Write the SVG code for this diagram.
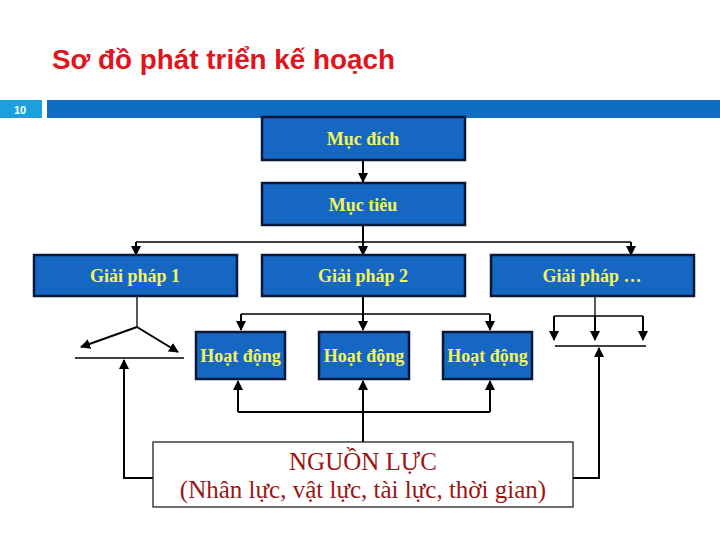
<svg xmlns="http://www.w3.org/2000/svg" width="720" height="540" viewBox="0 0 720 540">
<defs>
<style>
.box{fill:#1567C3;stroke:#0B1838;stroke-width:2.5}
.lbl{font-family:"Liberation Serif",serif;font-weight:bold;font-size:18px;fill:#F2F55A;text-anchor:middle}
.ln{fill:none;stroke:#000;stroke-width:2}
.thin{fill:none;stroke:#000;stroke-width:1.3}
.res{font-family:"Liberation Serif",serif;font-size:25px;fill:#9B1414;text-anchor:middle}
</style>
<marker id="ah" viewBox="0 0 10 10" refX="9" refY="5" markerWidth="5" markerHeight="5" orient="auto"><path d="M0,0 L10,5 L0,10 z" fill="#000"/></marker>
</defs>
<rect width="720" height="540" fill="#fff"/>
<text x="52" y="69" font-family="Liberation Sans,Arial,sans-serif" font-weight="bold" font-size="28" fill="#E0141C" textLength="343" lengthAdjust="spacingAndGlyphs">Sơ đồ phát triển kế hoạch</text>
<rect x="0" y="100" width="42" height="18" fill="#1BA0DC"/>
<text x="20" y="114" font-family="Liberation Sans,sans-serif" font-weight="bold" font-size="11" fill="#fff" text-anchor="middle">10</text>
<rect x="47" y="100" width="673" height="18" fill="#0F6EC4"/>
<g id="connectors">
<path class="ln" d="M363,160 V182" marker-end="url(#ah)"/>
<path class="ln" d="M363,225 V255" marker-end="url(#ah)"/>
<path class="thin" d="M136,242 H631"/>
<path class="ln" d="M136,242 V255" marker-end="url(#ah)"/>
<path class="ln" d="M631,242 V255" marker-end="url(#ah)"/>
<path class="thin" d="M137,296 V327"/>
<path class="ln" d="M137,327 L81,347" marker-end="url(#ah)"/>
<path class="ln" d="M137,327 L178,352" marker-end="url(#ah)"/>
<path class="thin" d="M75,358 H184"/>
<path class="ln" d="M363,296 V330" marker-end="url(#ah)"/>
<path class="thin" d="M241,314 H490"/>
<path class="ln" d="M241,314 V330" marker-end="url(#ah)"/>
<path class="ln" d="M490,314 V330" marker-end="url(#ah)"/>
<path class="thin" d="M595,296 V316"/>
<path class="thin" d="M554,316 H643"/>
<path class="ln" d="M554,316 V340" marker-end="url(#ah)"/>
<path class="ln" d="M595,316 V340" marker-end="url(#ah)"/>
<path class="ln" d="M643,316 V340" marker-end="url(#ah)"/>
<path class="thin" d="M555,346 H646"/>
<path class="ln" d="M363,442 V381" marker-end="url(#ah)"/>
<path class="ln" d="M238,412 H490"/>
<path class="ln" d="M238,412 V381" marker-end="url(#ah)"/>
<path class="ln" d="M490,412 V381" marker-end="url(#ah)"/>
<path class="ln" d="M153,478 H124 V360" marker-end="url(#ah)"/>
<path class="ln" d="M573,478 H599 V348" marker-end="url(#ah)"/>
</g>
<g id="mucdich"><rect class="box" x="262" y="117" width="203" height="43"/><text class="lbl" x="363" y="145">Mục đích</text></g>
<g id="muctieu"><rect class="box" x="262" y="183" width="203" height="42"/><text class="lbl" x="363" y="211">Mục tiêu</text></g>
<g id="giaiphap1"><rect class="box" x="34" y="255" width="203" height="41"/><text class="lbl" x="135" y="282">Giải pháp 1</text></g>
<g id="giaiphap2"><rect class="box" x="262" y="255" width="203" height="41"/><text class="lbl" x="363" y="282">Giải pháp 2</text></g>
<g id="giaiphapn"><rect class="box" x="491" y="255" width="203" height="41"/><text class="lbl" x="592" y="282">Giải pháp …</text></g>
<g id="hoatdong1"><rect class="box" x="196" y="332" width="89" height="47"/><text class="lbl" x="240.5" y="362">Hoạt động</text></g>
<g id="hoatdong2"><rect class="box" x="319" y="332" width="90" height="47"/><text class="lbl" x="364" y="362">Hoạt động</text></g>
<g id="hoatdong3"><rect class="box" x="443" y="332" width="89" height="47"/><text class="lbl" x="487.5" y="362">Hoạt động</text></g>
<g id="nguonluc"><rect x="153" y="442" width="420" height="65" fill="#fff" stroke="#222" stroke-width="1.3"/>
<text class="res" x="363" y="470">NGUỒN LỰC</text>
<text class="res" x="363" y="498">(Nhân lực, vật lực, tài lực, thời gian)</text></g>
</svg>
